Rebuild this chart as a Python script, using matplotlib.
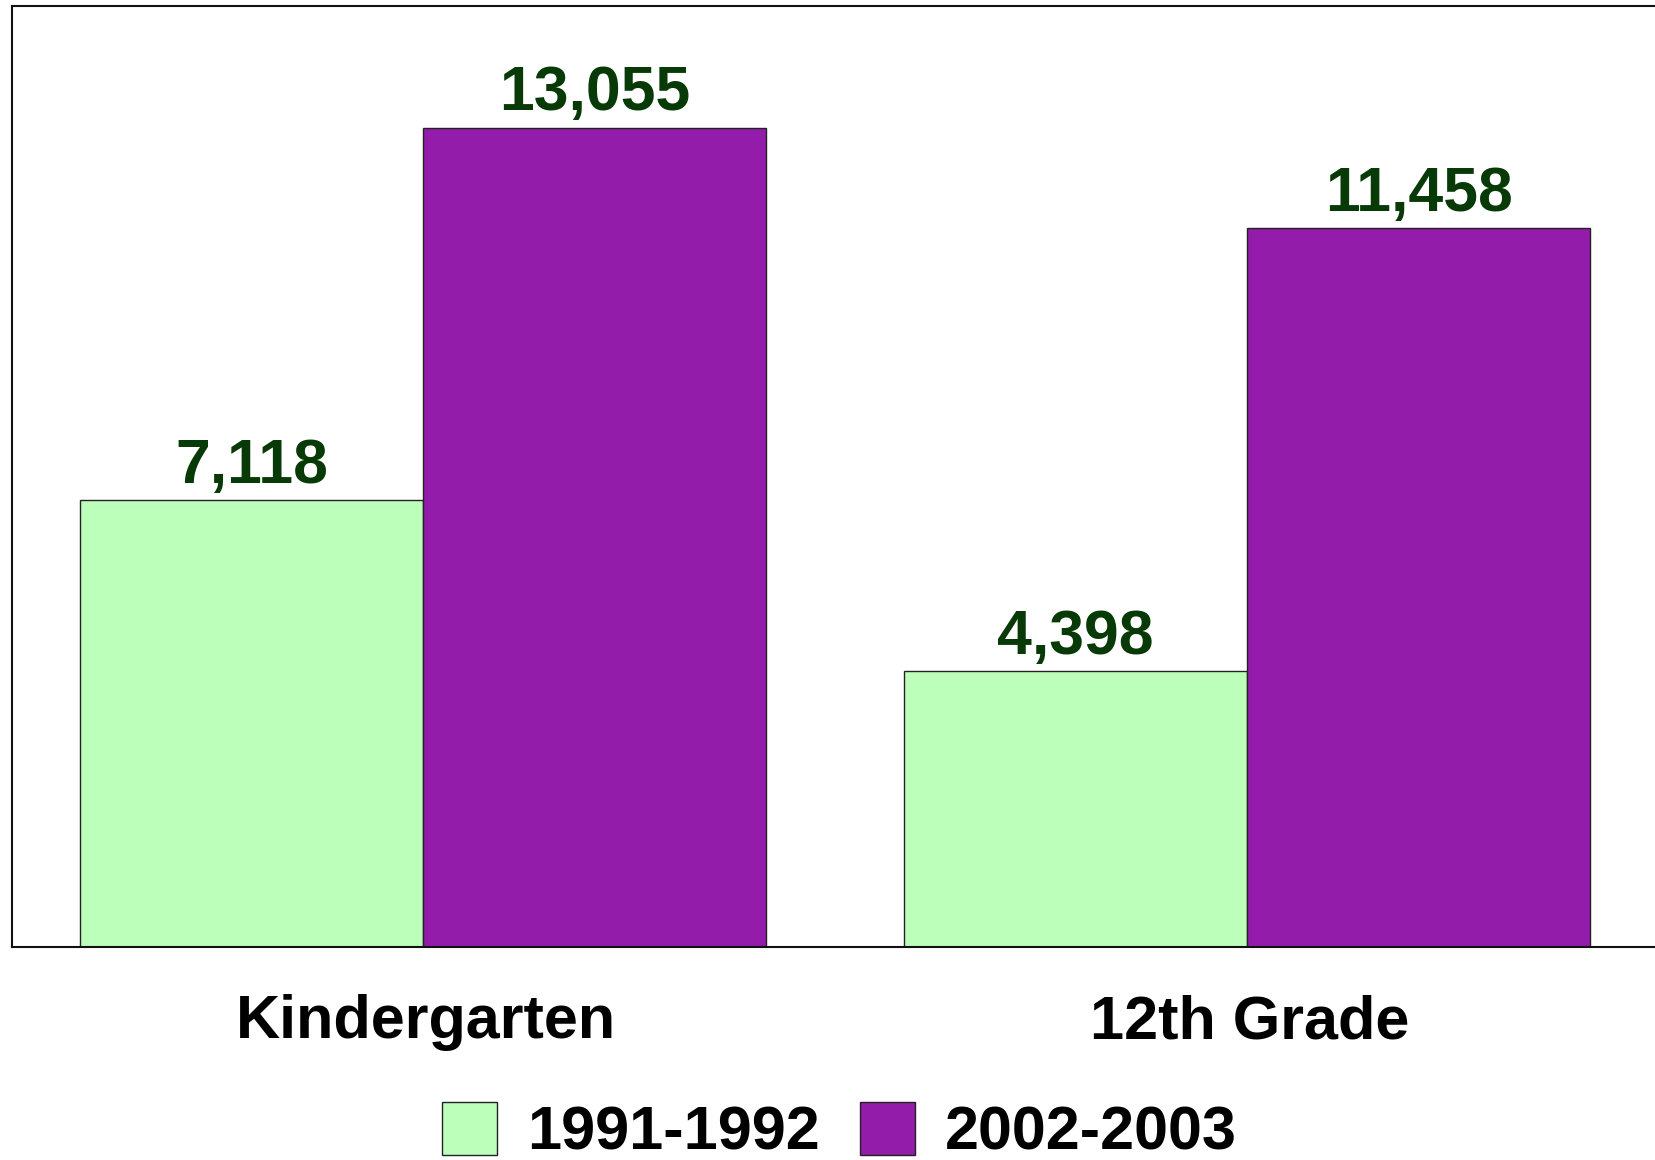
import numpy as np
import matplotlib
matplotlib.use('Agg')
import matplotlib.pyplot as plt
import matplotlib.transforms as mtransforms

plt.rcParams['font.family'] = ['Liberation Sans', 'DejaVu Sans']
plt.rcParams['font.weight'] = 'bold'

# data
categories = ['Kindergarten', '12th Grade']
series = ['1991-1992', '2002-2003']
values_1991 = [7118, 4398]
values_2002 = [13055, 11458]

colors = ['#bbffbb', '#931caa']
label_color = '#073a07'

fig = plt.figure(figsize=(16.55, 11.6), dpi=100)
ax = fig.add_axes([0.00695, 0.1836, 0.9955, 0.8116])

x = np.arange(len(categories))
w = 0.4163
b1 = ax.bar(x - w / 2, values_1991, w, color=colors[0], edgecolor='#222222',
            linewidth=1.0, label=series[0])
b2 = ax.bar(x + w / 2, values_2002, w, color=colors[1], edgecolor='#222222',
            linewidth=1.0, label=series[1])

for bars, vals in [(b1, values_1991), (b2, values_2002)]:
    for rect, v in zip(bars, vals):
        ax.annotate(f'{v:,}', (rect.get_x() + rect.get_width() / 2, rect.get_height()),
                    xytext=(0, 12.5), textcoords='offset points',
                    ha='center', va='baseline', fontsize=45, fontweight='bold',
                    color=label_color)

ax.set_xlim(-0.5, 1.5)
ax.set_ylim(0, 15000)
ax.set_yticks([])
ax.set_xticks(x)
ax.set_xticklabels(categories, fontsize=44, fontweight='bold')
ax.tick_params(axis='x', length=0, pad=34)
shift = mtransforms.ScaledTranslation(3 / 100, 0, fig.dpi_scale_trans)
for lab in ax.get_xticklabels():
    lab.set_transform(lab.get_transform() + shift)
for side in ['left', 'top', 'bottom']:
    ax.spines[side].set_linewidth(1.5)
    ax.spines[side].set_color('#111111')
ax.spines['right'].set_visible(False)

fig.legend(handles=[b1, b2], labels=series, loc='center',
           bbox_to_anchor=(0.5074, 0.024), ncol=2, frameon=False,
           prop={'size': 44, 'weight': 'bold'}, handlelength=0.9,
           handleheight=0.95, handletextpad=0.49, columnspacing=0.66,
           borderpad=0, borderaxespad=0)

fig.savefig('out.png', dpi=100)
